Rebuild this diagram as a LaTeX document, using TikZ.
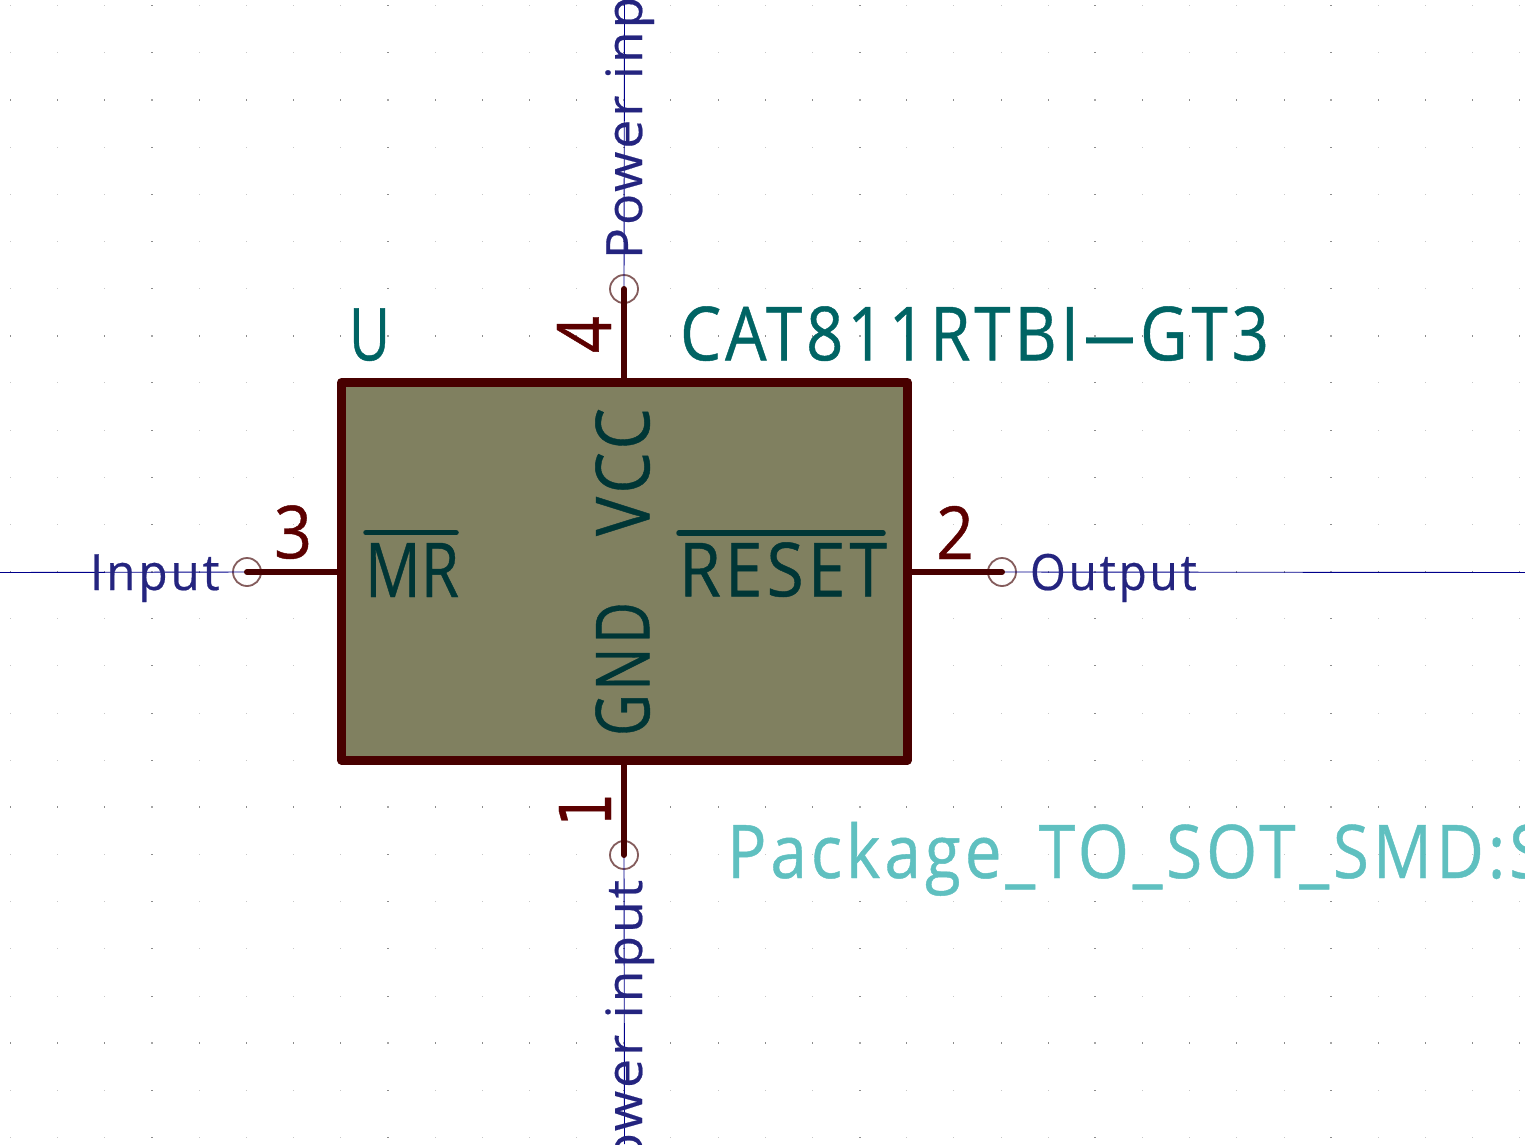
\documentclass[tikz,border=0pt]{standalone}
\usepackage{fontspec}
\setmainfont{Open Sans}
\newfontfamily\numfont{DejaVu Sans}
\usetikzlibrary{calc}
\definecolor{body}{HTML}{808060}
\definecolor{edge}{HTML}{480000}
\definecolor{pinnum}{HTML}{5C0000}
\definecolor{pinname}{HTML}{003636}
\definecolor{refc}{HTML}{006464}
\definecolor{fpc}{HTML}{5FC0C0}
\definecolor{netlab}{HTML}{24247F}
\definecolor{wirec}{HTML}{00008B}
\definecolor{circc}{HTML}{845C5C}
\newcommand{\fittext}[3]{\resizebox{#1pt}{#2pt}{\addfontfeatures{FakeBold=0.6}#3}}
\newcommand{\netfont}{\fontsize{50}{50}\selectfont\addfontfeatures{LetterSpace=6,FakeBold=0.4}}
\tikzset{
  lab/.style={inner sep=0pt,outer sep=0pt},
  wire/.style={draw=wirec,line width=0.9pt},
  pinline/.style={draw=edge,line width=6pt,line cap=round},
  term/.style={circle,draw=circc,line width=1.8pt,minimum size=28pt,inner sep=0pt,fill=none},
  bodybox/.style={draw=edge,fill=body,line width=8.5pt,line join=round,inner sep=0pt,minimum width=566pt,minimum height=378pt},
  bar/.style={draw=pinname,line width=5.5pt,line cap=round}
}
\begin{document}
\begin{tikzpicture}[x=1pt,y=-1pt]
\useasboundingbox (0,0) rectangle (1525,1144);
\clip (0,0) rectangle (1525,1144);
\fill[white] (0,0) rectangle (1525,1144);
% grid
\foreach \i in {0,...,32}{
  \foreach \j in {0,...,24}{
    \pgfmathsetmacro{\gx}{10.5+47.17*\i}
    \pgfmathsetmacro{\gy}{5.5+47.17*\j}
    \pgfmathtruncatemacro{\mi}{mod(\i+12,5)}
    \pgfmathtruncatemacro{\mj}{mod(\j+3,5)}
    \ifnum\mj=0
      \ifnum\mi=0
        \fill[gray!70] (\gx-1,\gy-1) rectangle (\gx+1,\gy+1);
      \else
        \fill[gray!90] (\gx-0.5,\gy-1) rectangle (\gx+0.5,\gy+1);
      \fi
    \else
      \ifnum\mi=0
        \fill[gray!90] (\gx-1,\gy-0.5) rectangle (\gx+1,\gy+0.5);
      \else
        \fill[gray!45] (\gx-0.5,\gy-0.5) rectangle (\gx+0.5,\gy+0.5);
      \fi
    \fi
  }
}
% nodes
\node[term] (t4) at (624,289) {};
\node[term] (t1) at (624,855) {};
\node[term] (t3) at (247,572) {};
\node[term] (t2) at (1002,572) {};
\coordinate (wT) at (624.5,0);
\coordinate (wB) at (624.5,1144);
\coordinate (wL) at (0,572.5);
\coordinate (wR) at (1525,572.5);
\draw[wire] (wT) -- (t4.center);
\draw[wire] (wB) -- (t1.center);
\draw[wire] (wL) -- (t3.center);
\draw[wire] (wR) -- (t2.center);
\node[bodybox] (ic) at (624.5,571.3) {};
\draw[pinline] (t4.center) -- (ic.north -| t4.center);
\draw[pinline] (t1.center) -- (ic.south -| t1.center);
\draw[pinline] (t3.center) -- (ic.west |- t3.center);
\draw[pinline] (t2.center) -- (ic.east |- t2.center);
% texts
\node[lab,text=refc,anchor=south west] (ref) at (349,361) {\fittext{41}{52}{U}};
\node[lab,text=refc,anchor=south west] (val) at (680,361) {\fittext{589}{54}{\addfontfeatures{LetterSpace=6}CAT811RTBI\scalebox{2.9}[1]{-}GT3}};
\node[lab,text=pinnum,anchor=south west] (n3) at (274,559) {\fittext{38}{53}{3}};
\node[lab,text=pinnum,anchor=south west] (n2) at (936,559) {\fittext{38}{53}{2}};
\node[lab,text=pinnum,rotate=90,anchor=south west] (n4) at (611,353) {\fittext{37}{54}{4}};
\node[lab,text=pinnum,rotate=90,anchor=south west] (n1) at (611,826) {\resizebox{33pt}{52pt}{\numfont\addfontfeatures{FakeBold=0.4}1}};
\node[lab,text=pinname,anchor=south west] (mr) at (365,597) {\fittext{94}{54}{MR}};
\draw[bar] (366,532.7) -- (456,532.7);
\node[lab,text=pinname,anchor=south west] (rs) at (679,597) {\fittext{208}{54}{\addfontfeatures{LetterSpace=6}RESET}};
\draw[bar] (679,533) -- (883,533);
\node[lab,text=pinname,rotate=90,anchor=south west] (vcc) at (650,536) {\fittext{128}{54}{\addfontfeatures{LetterSpace=6}VCC}};
\node[lab,text=pinname,rotate=90,anchor=south west] (gnd) at (650,736) {\fittext{134}{54}{\addfontfeatures{LetterSpace=6}GND}};
\node[lab,text=netlab,anchor=base west] (inp) at (90,590) {\scalebox{0.955}[1]{\netfont Input}};
\node[lab,text=netlab,anchor=base west] (outp) at (1030,590) {\scalebox{0.92}[1]{\netfont Output}};
\node[lab,text=netlab,rotate=90,anchor=base west] (pt) at (642,259) {\scalebox{1.03}[1]{\netfont Power input}};
\node[lab,text=netlab,rotate=90,anchor=base east] (pb) at (642,880) {\scalebox{1.03}[1]{\netfont Power input}};
\node[lab,text=fpc,anchor=base west] (fp) at (727,878) {\scalebox{0.887}[1]{\fontsize{74}{74}\selectfont\addfontfeatures{LetterSpace=6,FakeBold=0.6}Package\_TO\_SOT\_SMD:SOT-143}};
\end{tikzpicture}
\end{document}
